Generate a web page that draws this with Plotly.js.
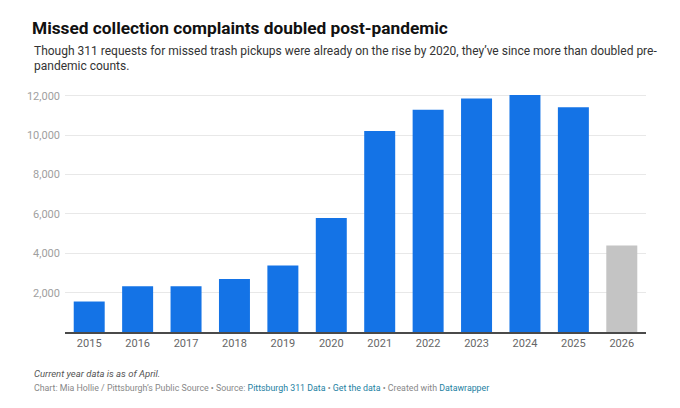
<!DOCTYPE html>
<html>
<head>
<meta charset="utf-8">
<script src="https://cdn.plot.ly/plotly-3.0.1.min.js"></script>
<style>
html,body{margin:0;padding:0;background:#fff;}
#chart{width:680px;height:408px;}
</style>
</head>
<body>
<div id="chart"></div>
<script>
// ---- data ----
const years = ['2015','2016','2017','2018','2019','2020','2021','2022','2023','2024','2025','2026'];
const complaints = [1550, 2330, 2320, 2700, 3380, 5800, 10220, 11300, 11870, 12050, 11420, 4400];
const partialYear = '2026';
const yTickVals = [2000, 4000, 6000, 8000, 10000, 12000];
const yTickLabels = ['2,000', '4,000', '6,000', '8,000', '10,000', '12,000'];

const titleText = 'Missed collection complaints doubled post-pandemic';
const subtitleLines = [
  'Though 311 requests for missed trash pickups were already on the rise by 2020, they\u2019ve since more than doubled pre-',
  'pandemic counts.'
];
const noteText = 'Current year data is as of April.';
const creditText = 'Chart: Mia Hollie / Pittsburgh\u2019s Public Source \u2022 Source: <span style="color:#1d81a2">Pittsburgh 311 Data</span> \u2022 <span style="color:#1d81a2">Get the data</span> \u2022 Created with <span style="color:#1d81a2">Datawrapper</span>';

// ---- layout helpers ----
const W = 680, H = 408;
const M = {l: 65, r: 34, t: 92, b: 76};
const plotW = W - M.l - M.r, plotH = H - M.t - M.b;
const px2x = px => (px - M.l) / plotW;
const px2y = py => (H - M.b - py) / plotH;

const blue = '#1473e6', grey = '#c4c4c4';
const colors = years.map(y => y === partialYear ? grey : blue);

const trace = {
  type: 'bar',
  x: years,
  y: complaints,
  marker: {color: colors, line: {width: 0}},
  hoverinfo: 'skip'
};

const subtitleY = [51, 66];
const subtitleAnns = subtitleLines.map((t, i) => ({
  text: t, showarrow: false,
  xref: 'paper', yref: 'paper', x: px2x(32), y: px2y(subtitleY[i]),
  xanchor: 'left', yanchor: 'middle', align: 'left',
  font: {family: 'Roboto, sans-serif', size: 12, color: '#333'}
}));

const layout = {
  width: W, height: H,
  margin: M,
  paper_bgcolor: '#fff', plot_bgcolor: '#fff',
  font: {family: 'Roboto, sans-serif', color: '#333'},
  bargap: 0.36,
  showlegend: false,
  title: {
    text: '<b>' + titleText + '</b>',
    font: {family: 'Roboto, sans-serif', size: 17.3, color: '#111'},
    x: 32 / W, xref: 'container', xanchor: 'left',
    y: 1 - 27.5 / H, yref: 'container', yanchor: 'middle'
  },
  xaxis: {
    type: 'category',
    range: [-0.5, years.length - 0.5],
    showgrid: false,
    showline: true, linecolor: '#4a4a4a', linewidth: 1.5,
    ticks: '', ticklen: 0,
    tickfont: {family: 'Roboto, sans-serif', size: 11, color: '#666'},
    fixedrange: true
  },
  yaxis: {
    range: [0, 12200],
    tickmode: 'array', tickvals: yTickVals, ticktext: yTickLabels,
    showgrid: true, gridcolor: '#e8e8e8', gridwidth: 1,
    zeroline: false, showline: false,
    ticks: '', ticklabelstandoff: 4,
    tickfont: {family: 'Roboto, sans-serif', size: 11, color: '#a0a0a0'},
    fixedrange: true
  },
  annotations: subtitleAnns.concat([
    {
      text: '<i>' + noteText + '</i>', showarrow: false,
      xref: 'paper', yref: 'paper', x: px2x(32), y: px2y(373),
      xanchor: 'left', yanchor: 'middle', align: 'left',
      font: {family: 'Roboto, sans-serif', size: 9.5, color: '#555'}
    },
    {
      text: creditText, showarrow: false,
      xref: 'paper', yref: 'paper', x: px2x(32), y: px2y(388),
      xanchor: 'left', yanchor: 'middle', align: 'left',
      font: {family: 'Roboto, sans-serif', size: 8.8, color: '#888'}
    }
  ])
};

Plotly.newPlot('chart', [trace], layout, {staticPlot: true, displayModeBar: false});
</script>
</body>
</html>
